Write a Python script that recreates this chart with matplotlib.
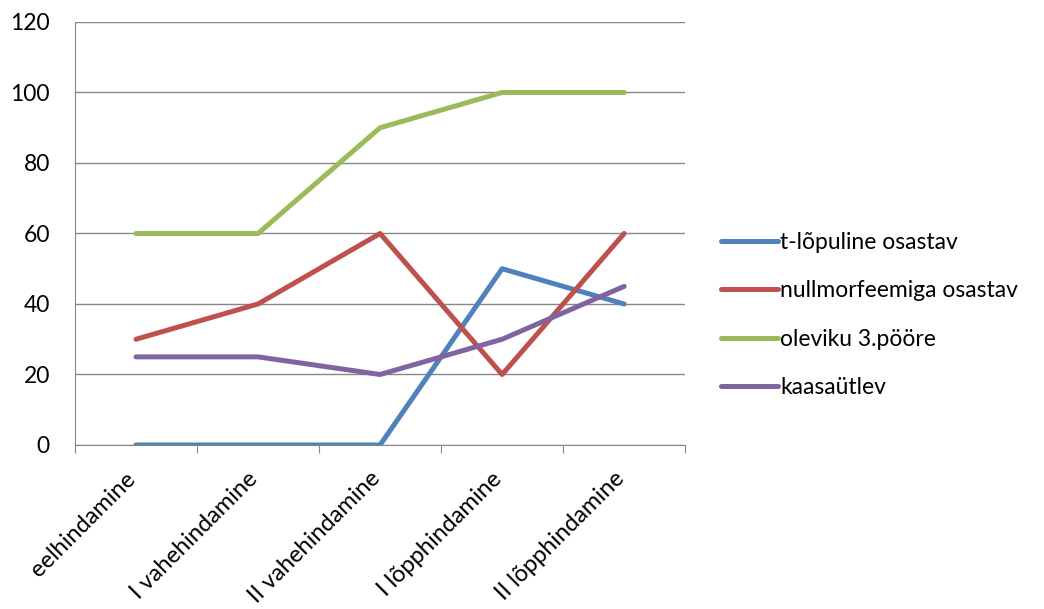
import matplotlib
matplotlib.use('Agg')
import matplotlib.pyplot as plt
import matplotlib.transforms as mtransforms

categories = ['eelhindamine', 'I vahehindamine', 'II vahehindamine', 'I lõpphindamine', 'II lõpphindamine']
t_lopuline = [0, 0, 0, 50, 40]
nullmorfeemiga = [30, 40, 60, 20, 60]
oleviku = [60, 60, 90, 100, 100]
kaasautlev = [25, 25, 20, 30, 45]
series_names = ['t-lõpuline osastav', 'nullmorfeemiga osastav', 'oleviku 3.pööre', 'kaasaütlev']
colors = ['#4F81BD', '#C0504D', '#9BBB59', '#8064A2']

plt.rcParams['font.family'] = ['Lato', 'DejaVu Sans']

fig = plt.figure(figsize=(10.44, 6.09), dpi=100)
ax = fig.add_axes([0.0718, 0.2693, 0.5845, 0.6946])

x = list(range(len(categories)))
for vals, name, c in zip([t_lopuline, nullmorfeemiga, oleviku, kaasautlev], series_names, colors):
    ax.plot(x, vals, color=c, linewidth=3.6, label=name, solid_capstyle='round')

ax.set_xlim(-0.5, len(categories) - 0.5)
ax.set_ylim(0, 120)
ax.set_yticks(range(0, 121, 20))
ax.yaxis.grid(True, color='#868686', linewidth=1)
ax.set_axisbelow(True)

# ticks on category boundaries, rotated labels placed under each category
ax.set_xticks([i - 0.5 for i in range(len(categories) + 1)])
ax.set_xticklabels([])
offset = mtransforms.ScaledTranslation(-11 / 100, -23 / 100, fig.dpi_scale_trans)
for i, cat in enumerate(categories):
    ax.text(i, 0, cat, transform=ax.get_xaxis_transform() + offset,
            rotation=45, ha='right', va='top', rotation_mode='anchor', fontsize=17)
ax.tick_params(axis='x', length=6, color='#868686', direction='out')
ax.tick_params(axis='y', length=0, labelsize=16.5, pad=18)

for s in ['top', 'right']:
    ax.spines[s].set_visible(False)
ax.spines['left'].set_color('#868686')
ax.spines['bottom'].set_color('#868686')

fig.legend(loc='center left', bbox_to_anchor=(0.6705, 0.483), frameon=False,
           fontsize=16.5, handlelength=2.5, handletextpad=0.1, labelspacing=1.2)

fig.savefig('out.png', dpi=100)
